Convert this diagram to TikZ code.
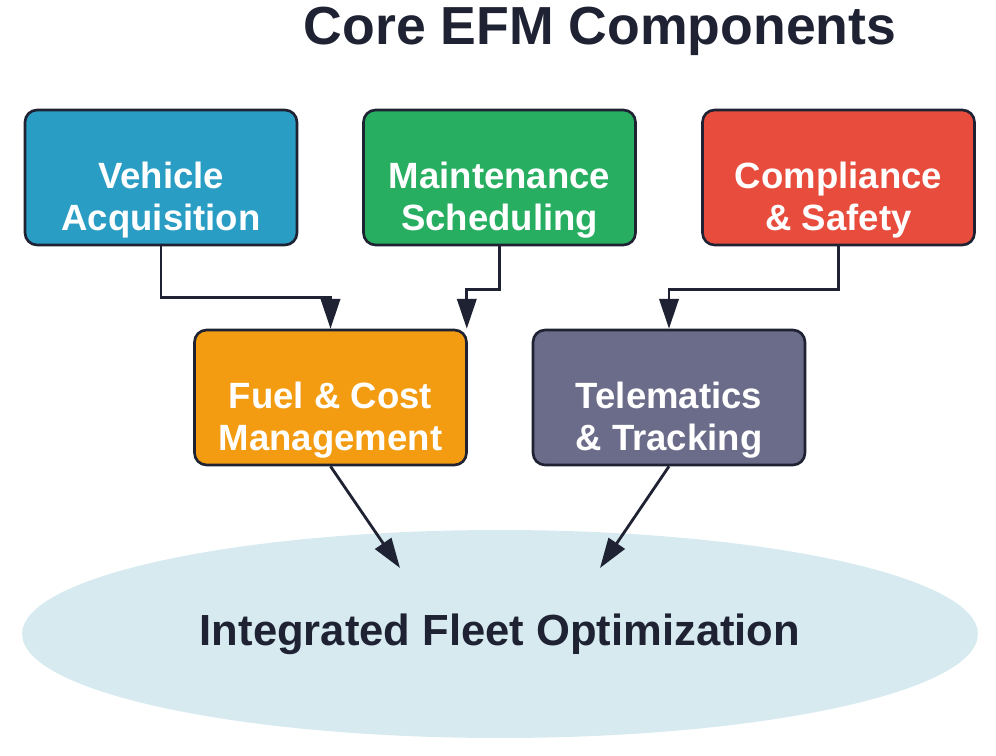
\documentclass[tikz,border=0pt]{standalone}
\usepackage{fontspec}
\setmainfont{Liberation Sans}
\usepackage{tikz}
\usetikzlibrary{shapes.geometric,arrows.meta,positioning,calc}

\definecolor{inkdark}{HTML}{1E2233}
\definecolor{acqblue}{HTML}{2A9DC4}
\definecolor{mntgreen}{HTML}{27AE60}
\definecolor{cmpred}{HTML}{E74C3C}
\definecolor{fuelorange}{HTML}{F39C12}
\definecolor{telgray}{HTML}{6A6C89}
\definecolor{optblue}{HTML}{D6EAF0}

\begin{document}
\begin{tikzpicture}[x=0.02cm, y=-0.02cm,
    comp/.style={draw=inkdark, line width=1.5pt, rounded corners=0.24cm,
        minimum width=5.44cm, minimum height=2.7cm, align=center, text=white,
        inner sep=2pt, text height=65pt,
        font=\bfseries\fontsize{20.8}{24}\selectfont},
    link/.style={draw=inkdark, line width=1.6pt, -{Triangle[length=17pt, width=11pt]}}]
        \useasboundingbox (0,0) rectangle (996,756);

        \node[font=\bfseries\fontsize{30.5}{34}\selectfont, text=inkdark] (title) at (600,31) {Core EFM Components};

        \node[comp, fill=acqblue] (veh) at (161,177.5) {Vehicle\\Acquisition};
        \node[comp, fill=mntgreen] (mnt) at (499.5,177.5) {Maintenance\\Scheduling};
        \node[comp, fill=cmpred] (cmp) at (838.5,177.5) {Compliance\\\& Safety};
        \node[comp, fill=fuelorange] (fuel) at (330.5,397.5) {Fuel \& Cost\\Management};
        \node[comp, fill=telgray] (tel) at (669,397.5) {Telematics\\\& Tracking};

        \node[ellipse, fill=optblue, minimum width=19.12cm, minimum height=4.16cm, inner sep=0pt,
            text=inkdark, font=\bfseries\fontsize{24.8}{28}\selectfont] (opt) at (500,634) {Integrated Fleet Optimization};

        \coordinate (inL) at (400,568);
        \coordinate (inR) at (600,568);

        \draw[link] (veh.south) -- ++(0,51) -| (fuel.north);
        \draw[link] (mnt.south) -- ++(0,43) -| ($(fuel.north east)+(-1,0)$);
        \draw[link] (cmp.south) -- ++(0,43) -| (tel.north);
        \draw[link] (fuel.south) -- (inL);
        \draw[link] (tel.south) -- (inR);
    \end{tikzpicture}
\end{document}
